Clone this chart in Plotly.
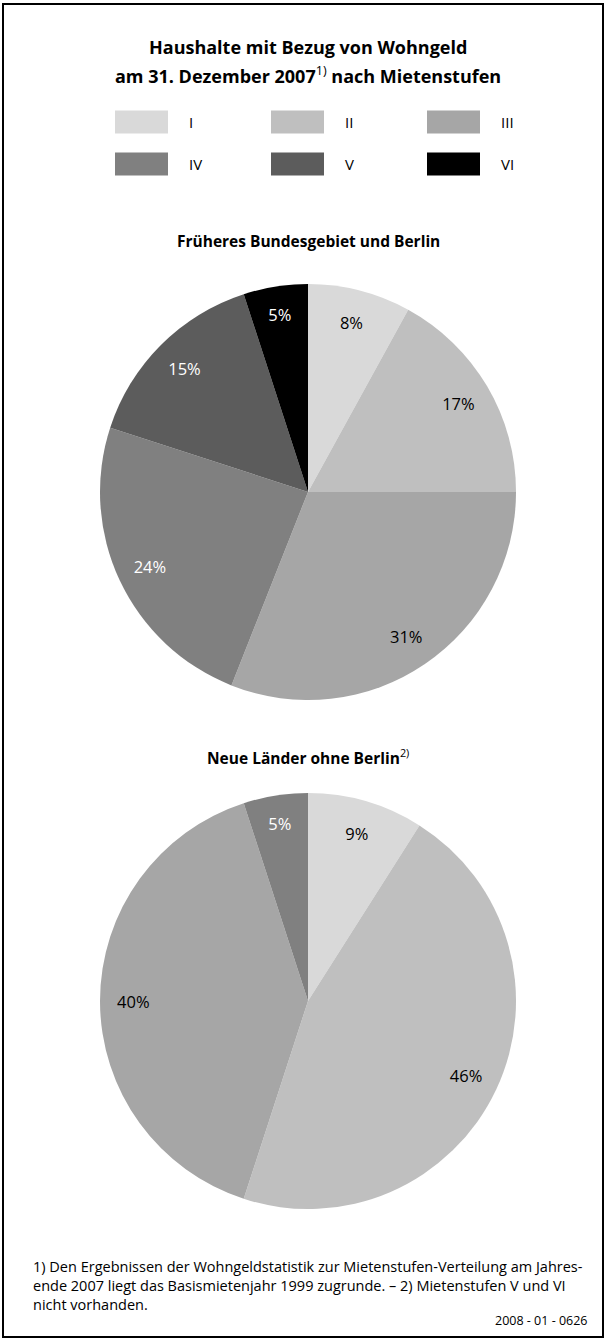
import plotly.graph_objects as go

W, H = 606, 1340

categories = ["I", "II", "III", "IV", "V", "VI"]
colors = ["#d9d9d9", "#bfbfbf", "#a6a6a6", "#808080", "#5c5c5c", "#000000"]
text_colors = ["#000000", "#000000", "#000000", "#ffffff", "#ffffff", "#ffffff"]

west_values = [8, 17, 31, 24, 15, 5]
east_categories = ["I", "II", "III", "IV"]
east_values = [9, 46, 40, 5]

footnote_lines = [
    "1) Den Ergebnissen der Wohngeldstatistik zur Mietenstufen-Verteilung am Jahres-",
    "ende 2007 liegt das Basismietenjahr 1999 zugrunde. – 2) Mietenstufen V und VI",
    "nicht vorhanden.",
]

FONT = "Open Sans"

def py(px):
    return 1 - px / H

def px_x(px):
    return px / W

fig = go.Figure()

def add_pie(labels, values, cols, tcols, y_top, y_bot):
    dom = dict(x=[px_x(100), px_x(516)], y=[py(y_bot), py(y_top)])
    # filled pie (no text)
    fig.add_trace(go.Pie(
        labels=labels, values=values, sort=False, direction="clockwise", rotation=0,
        marker=dict(colors=cols, line=dict(width=0)), textinfo="none",
        domain=dom, showlegend=False, hoverinfo="label+value",
    ))
    # transparent ring overlay that carries the percentage labels
    fig.add_trace(go.Pie(
        labels=labels, values=values, sort=False, direction="clockwise", rotation=0,
        hole=0.68,
        marker=dict(colors=["rgba(0,0,0,0)"] * len(values), line=dict(width=0)),
        texttemplate="%{value}%", textposition="inside",
        insidetextfont=dict(color=tcols, size=16.5, family=FONT),
        insidetextorientation="horizontal",
        domain=dom, showlegend=False, hoverinfo="skip",
    ))

add_pie(categories, west_values, colors, text_colors, 284, 700)
add_pie(east_categories, east_values, colors[:4], text_colors[:4], 792, 1210)

shapes = [dict(type="rect", xref="paper", yref="paper",
               x0=px_x(3), x1=px_x(603), y0=py(1337), y1=py(4),
               line=dict(color="#000000", width=2), fillcolor="rgba(0,0,0,0)")]
annotations = []

# Legend grid (3 columns, 2 rows)
col_x = [115, 271, 427]
row_y = [122, 164]
for i, (cat, col) in enumerate(zip(categories, colors)):
    cx = col_x[i % 3]
    cy = row_y[i // 3]
    shapes.append(dict(type="rect", xref="paper", yref="paper",
                       x0=px_x(cx), x1=px_x(cx + 53), y0=py(cy + 11.5), y1=py(cy - 11.5),
                       line=dict(width=0), fillcolor=col))
    annotations.append(dict(text=cat, xref="paper", yref="paper",
                            x=px_x(cx + 72), y=py(cy), xanchor="left", yanchor="middle",
                            showarrow=False, font=dict(size=15, family=FONT, color="#000")))

annotations += [
    dict(text="<b>Haushalte mit Bezug von Wohngeld</b>", xref="paper", yref="paper",
         x=px_x(308), y=py(47), xanchor="center", yanchor="middle", showarrow=False,
         font=dict(size=18, family=FONT, color="#000")),
    dict(text="<b>am 31. Dezember 2007</b><sup>1)</sup><b> nach Mietenstufen</b>", xref="paper", yref="paper",
         x=px_x(308), y=py(75), xanchor="center", yanchor="middle", showarrow=False,
         font=dict(size=18, family=FONT, color="#000")),
    dict(text="<b>Früheres Bundesgebiet und Berlin</b>", xref="paper", yref="paper",
         x=px_x(308), y=py(241), xanchor="center", yanchor="middle", showarrow=False,
         font=dict(size=15.5, family=FONT, color="#000")),
    dict(text="<b>Neue Länder ohne Berlin</b><sup>2)</sup>", xref="paper", yref="paper",
         x=px_x(308), y=py(757), xanchor="center", yanchor="middle", showarrow=False,
         font=dict(size=15.5, family=FONT, color="#000")),
    dict(text="<br>".join(footnote_lines), xref="paper", yref="paper",
         x=px_x(31), y=py(1255), xanchor="left", yanchor="top",
         align="left", showarrow=False, font=dict(size=14.5, family=FONT, color="#000")),
    dict(text="2008 - 01 - 0626", xref="paper", yref="paper",
         x=px_x(590), y=py(1320), xanchor="right", yanchor="middle", showarrow=False,
         font=dict(size=12.5, family=FONT, color="#000")),
]

fig.update_layout(
    width=W, height=H, margin=dict(l=0, r=0, t=0, b=0),
    paper_bgcolor="#ffffff", plot_bgcolor="#ffffff",
    shapes=shapes, annotations=annotations, showlegend=False,
    font=dict(family=FONT),
)

fig.write_html("out.html")
